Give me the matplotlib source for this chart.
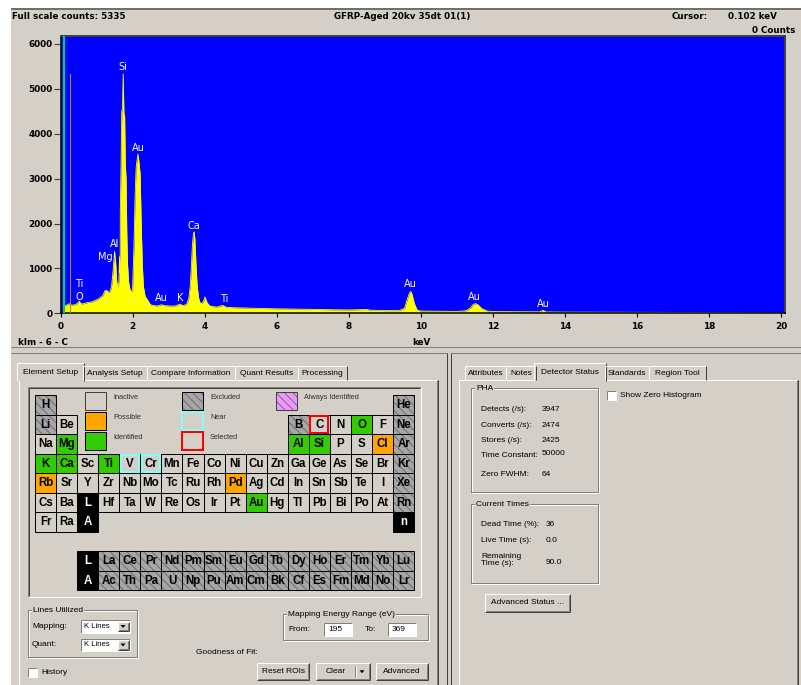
import matplotlib
matplotlib.use("Agg")
from matplotlib import pyplot as plt
from matplotlib.patches import Rectangle, Polygon

W, H = 801, 685
GRAY = '#d4d0c8'
DARK = '#808080'
DARKER = '#404040'
GUI_FONT = 'Liberation Sans'
plt.rcParams['hatch.linewidth'] = 0.7

# ---- spectrum (keV, counts) ----
energy_kev = [0.08, 0.10, 0.15, 0.20, 0.27, 0.30, 0.40, 0.47, 0.52, 0.57, 0.65, 0.75,
              0.85, 0.95, 1.05, 1.12, 1.18, 1.23, 1.28, 1.33, 1.38, 1.42, 1.46, 1.50,
              1.53, 1.56, 1.59, 1.62, 1.64, 1.655, 1.66, 1.68, 1.70, 1.72, 1.74, 1.76,
              1.78, 1.80, 1.82, 1.84, 1.86, 1.89, 1.93, 1.97, 2.00, 2.04, 2.07, 2.10,
              2.12, 2.15, 2.18, 2.21, 2.24, 2.27, 2.30, 2.35, 2.42, 2.50, 2.60, 2.70,
              2.80, 2.90, 3.00, 3.10, 3.20, 3.31, 3.40, 3.50, 3.56, 3.60, 3.63, 3.66,
              3.69, 3.71, 3.73, 3.76, 3.79, 3.83, 3.87, 3.92, 3.97, 4.01, 4.06, 4.12,
              4.20, 4.35, 4.50, 4.60, 4.80, 5.00, 5.50, 6.00, 6.50, 7.00, 7.50, 8.00,
              8.50, 8.60, 9.00, 9.40, 9.55, 9.62, 9.68, 9.72, 9.76, 9.82, 9.90, 10.00,
              10.50, 11.00, 11.25, 11.38, 11.46, 11.53, 11.60, 11.70, 11.85, 12.00, 12.50, 13.00,
              13.30, 13.39, 13.48, 14.00, 15.00, 16.00, 17.00, 18.00, 19.00, 19.50, 20.10]
counts = [150, 190, 170, 200, 215, 180, 190, 220, 270, 210, 215, 240,
          250, 280, 320, 360, 400, 500, 510, 470, 480, 620, 950, 1380,
          1150, 700, 590, 700, 1260, 900, 2300, 3250, 4500, 4560, 5335, 4450,
          4400, 3300, 3000, 1800, 1100, 700, 530, 480, 520, 1500, 2600, 3250,
          3380, 3550, 3350, 3100, 2000, 1100, 600, 380, 290, 190, 170, 165,
          190, 170, 165, 160, 165, 205, 170, 200, 330, 600, 1000, 1500,
          1780, 1815, 1650, 1100, 650, 350, 240, 215, 270, 365, 250, 180,
          150, 140, 175, 135, 125, 120, 110, 100, 95, 88, 80, 75,
          85, 70, 60, 60, 110, 300, 440, 490, 420, 220, 70, 50,
          45, 42, 55, 120, 200, 216, 180, 100, 50, 38, 35, 30,
          32, 67, 30, 26, 24, 22, 20, 15, 10, 8, 5]

peak_names = ['Ti', 'O', 'Mg', 'Al', 'Si', 'Au', 'Au', 'K', 'Ca', 'Ti', 'Au', 'Au', 'Au']
peak_kev = [0.51, 0.51, 1.24, 1.49, 1.74, 2.15, 2.79, 3.32, 3.71, 4.54, 9.72, 11.50, 13.39]
peak_label_counts = [650, 370, 1260, 1545, 5490, 3685, 340, 340, 1950, 320, 650, 370, 205]

full_scale = 5335
cursor_kev = 0.102
carbon_kev = 0.277
x_ticks = [0, 2, 4, 6, 8, 10, 12, 14, 16, 18, 20]
y_ticks = [0, 1000, 2000, 3000, 4000, 5000, 6000]

# ---- periodic table ----
pt_rows = [
    ['H'] + [''] * 16 + ['He'],
    ['Li', 'Be'] + [''] * 10 + ['B', 'C', 'N', 'O', 'F', 'Ne'],
    ['Na', 'Mg'] + [''] * 10 + ['Al', 'Si', 'P', 'S', 'Cl', 'Ar'],
    ['K', 'Ca', 'Sc', 'Ti', 'V', 'Cr', 'Mn', 'Fe', 'Co', 'Ni', 'Cu', 'Zn', 'Ga', 'Ge', 'As', 'Se', 'Br', 'Kr'],
    ['Rb', 'Sr', 'Y', 'Zr', 'Nb', 'Mo', 'Tc', 'Ru', 'Rh', 'Pd', 'Ag', 'Cd', 'In', 'Sn', 'Sb', 'Te', 'I', 'Xe'],
    ['Cs', 'Ba', 'L', 'Hf', 'Ta', 'W', 'Re', 'Os', 'Ir', 'Pt', 'Au', 'Hg', 'Tl', 'Pb', 'Bi', 'Po', 'At', 'Rn'],
    ['Fr', 'Ra', 'A'] + [''] * 14 + ['n'],
]
lanthanides = ['La', 'Ce', 'Pr', 'Nd', 'Pm', 'Sm', 'Eu', 'Gd', 'Tb', 'Dy', 'Ho', 'Er', 'Tm', 'Yb', 'Lu']
actinides = ['Ac', 'Th', 'Pa', 'U', 'Np', 'Pu', 'Am', 'Cm', 'Bk', 'Cf', 'Es', 'Fm', 'Md', 'No', 'Lr']
f_rows = [['', '', 'L'] + lanthanides, ['', '', 'A'] + actinides]

identified = ['O', 'Mg', 'Al', 'Si', 'K', 'Ca', 'Ti', 'Au']
possible = ['Cl', 'Rb', 'Pd']
near = ['V', 'Cr']
selected = ['C']
excluded = ['H', 'He', 'Li', 'B', 'Ne', 'Ar', 'Kr', 'Xe', 'Rn'] + lanthanides + actinides
series_marks = ['L', 'A', 'n']

legend_names = ['Inactive', 'Possible', 'Identified', 'Excluded', 'Near', 'Selected', 'Always Identified']
legend_kinds = ['inactive', 'possible', 'identified', 'excluded', 'near', 'selected', 'always']

left_tabs = ['Element Setup', 'Analysis Setup', 'Compare Information', 'Quant Results', 'Processing']
right_tabs = ['Attributes', 'Notes', 'Detector Status', 'Standards', 'Region Tool']

pha_labels = ['Detects (/s):', 'Converts (/s):', 'Stores (/s):', 'Time Constant:', 'Zero FWHM:']
pha_values = ['3947', '2474', '2425', '50000', '64']
time_labels = ['Dead Time (%):', 'Live Time (s):', 'Remaining\nTime (s):']
time_values = ['36', '0.0', '90.0']

fig = plt.figure(figsize=(W / 100, H / 100), dpi=100, facecolor='white')
gui = fig.add_axes([0, 0, 1, 1])
gui.set_xlim(0, W)
gui.set_ylim(H, 0)
gui.axis('off')


def box(x0, y0, x1, y1, fc='none', ec='none', lw=1, hatch=None, z=1):
    gui.add_patch(Rectangle((x0, y0), x1 - x0, y1 - y0, facecolor=fc, edgecolor=ec,
                            lw=lw * 0.72, hatch=hatch, zorder=z))


def line(xs, ys, c, lw=1, z=3):
    gui.plot(xs, ys, color=c, lw=lw * 0.72, solid_capstyle='butt', zorder=z)


def bevel(x0, y0, x1, y1, raised=True, z=3):
    hi, lo = ('white', DARK) if raised else (DARK, 'white')
    line([x0, x1], [y0, y0], hi, z=z)
    line([x0, x0], [y0, y1], hi, z=z)
    line([x0, x1], [y1, y1], lo, z=z)
    line([x1, x1], [y0, y1], lo, z=z)


def label(x, y, s, size=6, **kw):
    kw.setdefault('va', 'center')
    kw.setdefault('zorder', 5)
    gui.text(x, y, s, fontsize=size, family=GUI_FONT, **kw)


def etched(x0, y0, x1, y1, title=None):
    box(x0 + 1, y0 + 1, x1 + 1, y1 + 1, ec='white', z=2)
    box(x0, y0, x1, y1, ec=DARK, z=2)
    if title:
        label(x0 + 5, y0, title, bbox=dict(fc=GRAY, ec='none', pad=0.6))


def button(x0, y0, x1, y1, text):
    box(x0, y0, x1, y1, fc=GRAY, z=2)
    line([x0, x1], [y0, y0], 'white')
    line([x0, x0], [y0, y1], 'white')
    line([x0, x1], [y1, y1], DARKER)
    line([x1, x1], [y0, y1], DARKER)
    line([x0 + 1, x1 - 1], [y1 - 1, y1 - 1], DARK)
    line([x1 - 1, x1 - 1], [y0 + 1, y1 - 1], DARK)
    label((x0 + x1) / 2, (y0 + y1) / 2, text, ha='center')


def arrow(cx, cy, s=2.5):
    gui.add_patch(Polygon([[cx - s, cy - s / 2], [cx + s, cy - s / 2], [cx, cy + s / 2 + 0.5]],
                          closed=True, fc='black', ec='none', zorder=6))


def dropdown(x0, y0, x1, y1, text):
    box(x0, y0, x1, y1, fc='white', z=2)
    bevel(x0, y0, x1, y1, raised=False)
    label(x0 + 3, (y0 + y1) / 2, text, size=5.5)
    button(x1 - 12, y0 + 1.5, x1 - 1.5, y1 - 1.5, '')
    arrow(x1 - 7, (y0 + y1) / 2)


def checkbox(x0, y0, text):
    box(x0, y0, x0 + 9, y0 + 9, fc='white', z=2)
    bevel(x0, y0, x0 + 9, y0 + 9, raised=False)
    label(x0 + 13, y0 + 4.5, text)


def tabs(names, edges, sel, panel):
    px0, py0, px1 = panel
    box(px0, py0, px1, H, fc=GRAY, z=1)
    line([px0, px1], [py0, py0], 'white')
    line([px0, px0], [py0, H], 'white')
    line([px1, px1], [py0, H], DARK)
    line([px1 + 1, px1 + 1], [py0, H], DARKER)
    for i, name in enumerate(names):
        x0, x1 = edges[i], edges[i + 1]
        top = 363 if i == sel else 366
        bot = py0 + 1 if i == sel else py0
        if i == sel:
            x0, x1 = x0 - 2, x1 + 1
        box(x0, top, x1, bot, fc=GRAY, z=3 if i == sel else 2)
        line([x0, x0], [top, bot], 'white', z=4)
        line([x0, x1], [top, top], 'white', z=4)
        line([x1, x1], [top, bot], DARKER, z=4)
        label((x0 + x1) / 2, (top + py0) / 2 + 0.5, name, ha='center')


# ---- window background ----
box(11, 8, W, H, fc=GRAY, z=0)
line([11, W], [8.5, 8.5], '#707070', lw=2)
line([11, W], [347, 347], DARK)
line([11, 447], [353, 353], DARK)
line([447, 447], [353, H], DARKER)
line([451, W], [353, 353], DARK)
line([451, 451], [353, H], DARKER)

# ---- spectrum header ----
hdr = dict(fontsize=6.3, family='DejaVu Sans', fontweight='bold', va='center', zorder=5)
gui.text(12, 16, 'Full scale counts: %d' % full_scale, **hdr)
gui.text(334, 16, 'GFRP-Aged 20kv 35dt 01(1)', **hdr)
gui.text(672, 16, 'Cursor:', **hdr)
gui.text(728, 16, '%.3f keV' % cursor_kev, **hdr)
gui.text(795, 30, '0 Counts', ha='right', **hdr)
gui.text(18, 342, 'klm - 6 - C', **hdr)
gui.text(412, 342, 'keV', **hdr)

# ---- spectrum ----
ax = fig.add_axes([60.5 / W, 1 - 313.3 / H, (785 - 60.5) / W, (313.3 - 36) / H])
ax.set_facecolor('#0000ff')
ax.fill_between(energy_kev, counts, 0, color='#ffff00', lw=0, zorder=2)
ax.plot(energy_kev, counts, color='#ffff00', lw=0.6, zorder=2)
ax.axvline(cursor_kev, color='#00d070', lw=1.6, zorder=3)
ax.plot([carbon_kev, carbon_kev], [0, full_scale], color='#a08a30', lw=0.8, zorder=3)
for name, kev, cnt in zip(peak_names, peak_kev, peak_label_counts):
    ax.text(kev, cnt, name, color='white', fontsize=7, family='DejaVu Sans',
            ha='center', va='center', zorder=4)
ax.set_xlim(0, 20.11)
ax.set_ylim(0, 6178)
ax.set_xticks(x_ticks)
ax.set_yticks(y_ticks)
ax.set_xticklabels([str(t) for t in x_ticks], fontsize=6.4, fontweight='bold', family='DejaVu Sans')
ax.set_yticklabels([str(t) for t in y_ticks], fontsize=6.4, fontweight='bold', family='DejaVu Sans')
ax.tick_params(axis='x', direction='out', length=2.9, width=0.8, pad=3.5, color='black')
ax.tick_params(axis='y', direction='out', length=4.8, width=0.8, pad=1, color=DARKER)
for side in ['left', 'bottom']:
    ax.spines[side].set_color('black')
    ax.spines[side].set_linewidth(1.1)
for side in ['top', 'right']:
    ax.spines[side].set_color(DARKER)
    ax.spines[side].set_linewidth(1.4)

# ---- lower left: element setup ----
tabs(left_tabs, [19, 83, 147, 235, 298, 347], 0, (19, 380, 437))

box(28, 387, 421, 597, fc=GRAY, z=1)
line([28, 421], [387, 387], DARK)
line([28, 28], [387, 597], DARK)
line([29, 420], [388, 388], DARKER)
line([29, 29], [388, 596], DARKER)
line([28, 421], [597, 597], 'white')
line([421, 421], [387, 597], 'white')

cw, rh = 21.07, 19.5
row_y = [395 + i * rh for i in range(7)] + [551, 551 + rh]


def cell(x, y, w, h, kind, sym=''):
    if kind == 'series':
        box(x, y, x + w, y + h, fc='black', ec='black', z=3)
    elif kind == 'excluded':
        box(x, y, x + w, y + h, fc='#a6a6a6', ec='#6e6e6e', lw=0, hatch='\\\\\\\\', z=2)
        box(x, y, x + w, y + h, ec='black', z=3)
    elif kind == 'always':
        box(x, y, x + w, y + h, fc='#e89cf0', ec='#a050c0', lw=0, hatch='\\\\\\\\', z=2)
        box(x, y, x + w, y + h, ec=DARKER, z=3)
    else:
        fc = {'identified': '#33cc00', 'possible': '#ffa500'}.get(kind, GRAY)
        box(x, y, x + w, y + h, fc=fc, ec='black', z=2)
        if kind == 'near':
            box(x + 1.5, y + 1.5, x + w - 1.5, y + h - 1.5, ec='#80ffff', lw=2, z=3)
        if kind == 'selected':
            box(x + 1.5, y + 1.5, x + w - 1.5, y + h - 1.5, ec='#ff0000', lw=2, z=3)
    if sym:
        gui.text(x + w / 2, y + h / 2 + 0.5, sym, fontsize=8.3, family=GUI_FONT, fontweight='bold',
                 color='white' if kind == 'series' else 'black', ha='center', va='center', zorder=5)


def kind_of(sym):
    if sym in series_marks:
        return 'series'
    if sym in excluded:
        return 'excluded'
    if sym in identified:
        return 'identified'
    if sym in possible:
        return 'possible'
    if sym in near:
        return 'near'
    if sym in selected:
        return 'selected'
    return 'inactive'


for r, row in enumerate(pt_rows + f_rows):
    for c, sym in enumerate(row):
        if sym:
            cell(35 + c * cw, row_y[r], cw, rh, kind_of(sym), sym)

leg_x = [85, 182, 276]
leg_y = [392, 412, 432]
for i, (name, kind) in enumerate(zip(legend_names, legend_kinds)):
    lx, ly = leg_x[i // 3], leg_y[i % 3]
    if kind == 'inactive':
        box(lx, ly, lx + 21, ly + 18, fc=GRAY, ec=DARKER, z=3)
    elif kind == 'near':
        box(lx, ly, lx + 21, ly + 18, fc=GRAY, ec='#80ffff', lw=2, z=3)
    elif kind == 'selected':
        box(lx, ly, lx + 21, ly + 18, fc=GRAY, ec='#ff0000', lw=2, z=3)
    else:
        cell(lx, ly, 21, 18, kind)
    gui.text(lx + 28, ly + 5, name, fontsize=5.3, family=GUI_FONT, color='#303030',
             va='center', zorder=5)

etched(28, 610, 137, 657, 'Lines Utilized')
label(32, 626, 'Mapping:')
dropdown(81, 620, 130, 632.5, 'K Lines')
label(32, 645, 'Quant:')
dropdown(81, 638.5, 130, 651, 'K Lines')
checkbox(28, 667.5, 'History')

etched(283, 614, 428, 640, 'Mapping Energy Range (eV)')
label(288, 629.5, 'From:')
box(324, 623, 352, 636, fc='white', z=2)
bevel(324, 623, 352, 636, raised=False)
label(328, 629.5, '195')
label(365, 629.5, 'To:')
box(388, 623, 416, 636, fc='white', z=2)
bevel(388, 623, 416, 636, raised=False)
label(392, 629.5, '369')
label(196, 653, 'Goodness of Fit:')

button(257, 663, 309, 680, 'Reset ROIs')
button(316, 663, 370, 680, '')
label(336, 671.5, 'Clear', ha='center')
line([355, 355], [666, 677], DARK)
line([356, 356], [666, 677], 'white')
arrow(362, 671.5)
button(376, 663, 428, 680, 'Advanced')

# ---- lower right: detector status ----
tabs(right_tabs, [465, 506, 536, 605, 649, 706], 2, (459, 380, 797))

checkbox(607, 390.5, 'Show Zero Histogram')

etched(471, 388, 598, 492, 'PHA')
for name, val, y in zip(pha_labels, pha_values, [409, 425, 440, 455, 474]):
    label(481, y, name)
    label(542, y - (1.3 if val == '50000' else 0), val)

etched(471, 504, 598, 583, 'Current Times')
for name, val, y in zip(time_labels, time_values, [525, 540, 560]):
    label(481, y, name, linespacing=1.15)
    label(546, y + (2.5 if '\n' in name else 0), val)

button(485, 594, 570, 612, 'Advanced Status ...')

fig.savefig('out.png', dpi=100, facecolor='white')
